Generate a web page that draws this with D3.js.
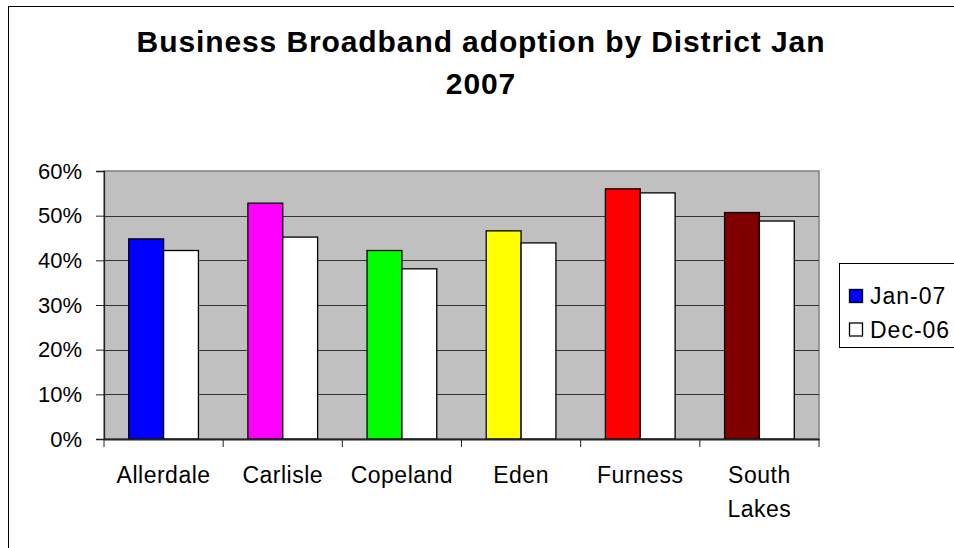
<!DOCTYPE html>
<html>
<head>
<meta charset="utf-8">
<script src="https://cdn.jsdelivr.net/npm/d3@7"></script>
<style>
  html, body { margin: 0; padding: 0; background: #fff; }
  svg { display: block; font-family: "Liberation Sans", Arial, sans-serif; }
</style>
</head>
<body>
<svg id="chart" width="954" height="548"></svg>
<script>
const categories = ["Allerdale", "Carlisle", "Copeland", "Eden", "Furness", "South Lakes"];
const seriesNames = ["Jan-07", "Dec-06"];
const jan07 = [0.448, 0.528, 0.422, 0.466, 0.560, 0.507];
const dec06 = [0.422, 0.452, 0.381, 0.439, 0.551, 0.488];
const janColors = ["#0000FF", "#FF00FF", "#00FF00", "#FFFF00", "#FF0000", "#800000"];
const yTicks = [0, 0.1, 0.2, 0.3, 0.4, 0.5, 0.6];
const titleLines = ["Business Broadband adoption by District Jan", "2007"];

const svg = d3.select("#chart");
const plot = { left: 104, right: 819, top: 171, bottom: 439 };

// Outer chart border
svg.append("rect")
  .attr("x", 8.5).attr("y", 6.5)
  .attr("width", 1000).attr("height", 600)
  .attr("fill", "#fff").attr("stroke", "#000").attr("stroke-width", 1);

// Title
const title = svg.append("text")
  .attr("text-anchor", "middle")
  .attr("font-weight", "bold")
  .attr("font-size", 30)
  .attr("letter-spacing", 0.9)
  .attr("fill", "#000");
titleLines.forEach((t, i) => {
  title.append("tspan").attr("x", 481).attr("y", 52 + i * 42).text(t);
});

const x0 = d3.scaleBand().domain(categories).range([plot.left, plot.right]).paddingInner(0).paddingOuter(0);
const bw = x0.bandwidth();
const x1 = d3.scaleBand().domain(seriesNames).range([bw * 0.2075, bw * 0.7925]).padding(0);
const y = d3.scaleLinear().domain([0, 0.6]).range([plot.bottom, plot.top]);

// Plot background
svg.append("rect")
  .attr("x", plot.left).attr("y", plot.top)
  .attr("width", plot.right - plot.left).attr("height", plot.bottom - plot.top)
  .attr("fill", "#C0C0C0").attr("stroke", "#808080").attr("stroke-width", 1.5);

// Gridlines
svg.append("g").selectAll("line")
  .data(yTicks.filter(d => d > 0 && d < 0.6))
  .join("line")
  .attr("x1", plot.left).attr("x2", plot.right)
  .attr("y1", d => Math.round(y(d)) + 0.5).attr("y2", d => Math.round(y(d)) + 0.5)
  .attr("stroke", "#333").attr("stroke-width", 1);

// Bars
const data = categories.map((c, i) => ({ cat: c, i, vals: [jan07[i], dec06[i]] }));
const groups = svg.append("g").selectAll("g")
  .data(data).join("g")
  .attr("transform", d => `translate(${x0(d.cat)},0)`);
groups.selectAll("rect")
  .data(d => d.vals.map((v, k) => ({ v, k, i: d.i, name: seriesNames[k] })))
  .join("rect")
  .attr("x", d => x1(d.name))
  .attr("width", x1.bandwidth())
  .attr("y", d => y(d.v))
  .attr("height", d => y(0) - y(d.v))
  .attr("fill", d => d.k === 0 ? janColors[d.i] : "#FFFFFF")
  .attr("stroke", "#000").attr("stroke-width", 1.3);

// Y axis
const yAxis = svg.append("g")
  .attr("transform", `translate(${plot.left},0)`)
  .call(d3.axisLeft(y).tickValues(yTicks).tickFormat(d3.format(".0%")).tickSize(8).tickPadding(14));
yAxis.select(".domain").attr("stroke", "#222").attr("stroke-width", 1.3);
yAxis.selectAll(".tick line").attr("stroke", "#222");
yAxis.selectAll("text").attr("font-size", 22).attr("font-family", "'Liberation Sans', Arial, sans-serif").attr("fill", "#000");

// X axis
const xAxis = svg.append("g")
  .attr("transform", `translate(0,${plot.bottom})`)
  .call(d3.axisBottom(x0).tickSize(0).tickPadding(0).tickFormat(""));
xAxis.select(".domain").attr("stroke", "#222").attr("stroke-width", 2);
// category tick marks at band boundaries
const boundaries = categories.map(c => x0(c)).concat([plot.right]);
svg.append("g").selectAll("line")
  .data(boundaries).join("line")
  .attr("x1", d => d).attr("x2", d => d)
  .attr("y1", plot.bottom).attr("y2", plot.bottom + 8)
  .attr("stroke", "#222").attr("stroke-width", 1);
// category labels
const labels = svg.append("g").selectAll("text")
  .data(categories).join("text")
  .attr("text-anchor", "middle")
  .attr("font-size", 23)
  .attr("letter-spacing", 0.5)
  .attr("fill", "#000");
labels.each(function(c) {
  const parts = c.split(" ");
  const sel = d3.select(this);
  parts.forEach((p, i) => {
    sel.append("tspan").attr("x", x0(c) + bw / 2).attr("y", 483 + i * 34).text(p);
  });
});

// Legend
const legend = svg.append("g");
legend.append("rect")
  .attr("x", 839.5).attr("y", 263.5).attr("width", 200).attr("height", 84)
  .attr("fill", "#fff").attr("stroke", "#000").attr("stroke-width", 1);
const legendColors = ["#0000FF", "#FFFFFF"];
const legendY = [296, 329.5];
seriesNames.forEach((s, i) => {
  legend.append("rect")
    .attr("x", 849.5).attr("y", legendY[i] - 6.5).attr("width", 13).attr("height", 13)
    .attr("fill", legendColors[i]).attr("stroke", "#000").attr("stroke-width", 1.3);
  legend.append("text")
    .attr("x", 870).attr("y", legendY[i] + 8)
    .attr("font-size", 23).attr("letter-spacing", 1)
    .attr("fill", "#000").text(s);
});
</script>
</body>
</html>
